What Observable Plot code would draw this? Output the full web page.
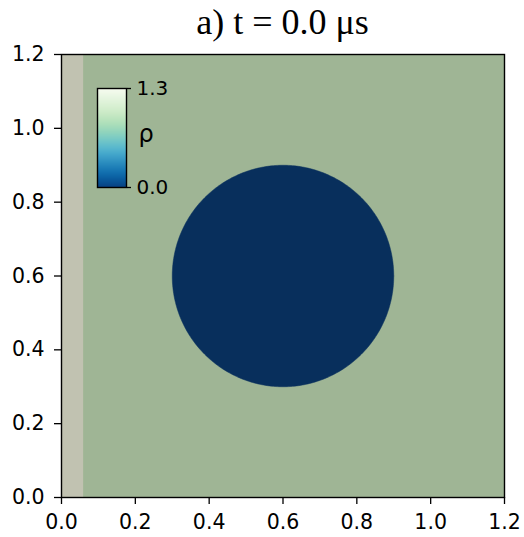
<!DOCTYPE html>
<html>
<head>
<meta charset="utf-8">
<script src="https://cdn.jsdelivr.net/npm/d3@7"></script>
<script src="https://cdn.jsdelivr.net/npm/@observablehq/plot@0.6"></script>
<style>
  html, body { margin: 0; padding: 0; background: white; }
  #wrap { position: relative; width: 524px; height: 537px; }
  #title {
    height: 34px; box-sizing: border-box; padding: 4px 20px 0 61px;
    font-family: "Liberation Serif", "Times New Roman", serif; font-size: 36px;
    text-align: center; line-height: 36px; color: #000;
  }
  #cbar { position: absolute; left: 97px; top: 78px; }
</style>
</head>
<body>
<div id="wrap">
  <div id="title">a) t = 0.0 μs</div>
  <div id="main"></div>
  <div id="cbar"></div>
</div>
<script>
// Domain extent and tick positions (both axes share the same ones)
const extent = [0, 1.2];
const ticks = [0.0, 0.2, 0.4, 0.6, 0.8, 1.0, 1.2];

// Regions of the initial density field
const regionNames = ["ambient", "shocked", "bubble"];
const regionColors = ["#9fb595", "#c1c2b1", "#082f5c"];

// Shocked strip along the left boundary
const stripX = [0.0, 0.06];
// Circular bubble
const bubbleCenter = [0.6, 0.6];
const bubbleRadius = 0.3;

// Colour bar range and label
const rhoDomain = [0.0, 1.3];
const rhoTicks = [0.0, 1.3];
const rhoLabel = "ρ";

const field = [
  {region: "ambient", x1: extent[0], x2: extent[1], y1: extent[0], y2: extent[1]},
  {region: "shocked", x1: stripX[0], x2: stripX[1], y1: extent[0], y2: extent[1]}
];

// Outline of the bubble as a closed polygon
const bubble = d3.range(0, 361, 1).map(a => ({
  region: "bubble",
  x: bubbleCenter[0] + bubbleRadius * Math.cos(a * Math.PI / 180),
  y: bubbleCenter[1] + bubbleRadius * Math.sin(a * Math.PI / 180)
}));

const font = "DejaVu Sans, sans-serif";
const fmt = d3.format(".1f");

const main = Plot.plot({
  width: 524,
  height: 503,
  marginLeft: 61,
  marginRight: 20,
  marginTop: 20,
  marginBottom: 40,
  style: {fontFamily: font, fontSize: "20.5px", color: "#000", background: "white", overflow: "visible"},
  x: {domain: extent},
  y: {domain: extent},
  color: {type: "ordinal", domain: regionNames, range: regionColors},
  marks: [
    Plot.rect(field, {x1: "x1", x2: "x2", y1: "y1", y2: "y2", fill: "region"}),
    Plot.line(bubble, {x: "x", y: "y", fill: "region", stroke: "region", strokeWidth: 0.5}),
    Plot.axisX({ticks, tickFormat: fmt, tickSize: 7, tickPadding: 10, label: null, fontSize: 20.5, strokeWidth: 1.3}),
    Plot.axisY({ticks, tickFormat: fmt, tickSize: 7, tickPadding: 10, label: null, fontSize: 20.5, strokeWidth: 1.3}),
    Plot.frame({stroke: "#000", strokeWidth: 1.4})
  ]
});
document.getElementById("main").appendChild(main);

const cbar = Plot.plot({
  width: 100,
  height: 119,
  marginLeft: 0,
  marginRight: 71,
  marginTop: 10,
  marginBottom: 10,
  style: {fontFamily: font, fontSize: "20px", color: "#000", background: "transparent", overflow: "visible"},
  x: {domain: [0, 1], axis: null},
  y: {domain: rhoDomain},
  color: {type: "linear", scheme: "gnbu", reverse: true, domain: rhoDomain},
  marks: [
    Plot.raster({x1: 0, x2: 1, y1: rhoDomain[0], y2: rhoDomain[1], fill: (x, y) => y, pixelSize: 1}),
    Plot.axisY({anchor: "right", ticks: rhoTicks, tickFormat: fmt, tickSize: 4, tickPadding: 6,
      fontSize: 20, label: null, strokeWidth: 1.3}),
    Plot.text([rhoLabel], {text: d => d, frameAnchor: "right", dx: 12, dy: -4, textAnchor: "start", fontSize: 24}),
    Plot.frame({stroke: "#000", strokeWidth: 1.4})
  ]
});
document.getElementById("cbar").appendChild(cbar);
</script>
</body>
</html>
